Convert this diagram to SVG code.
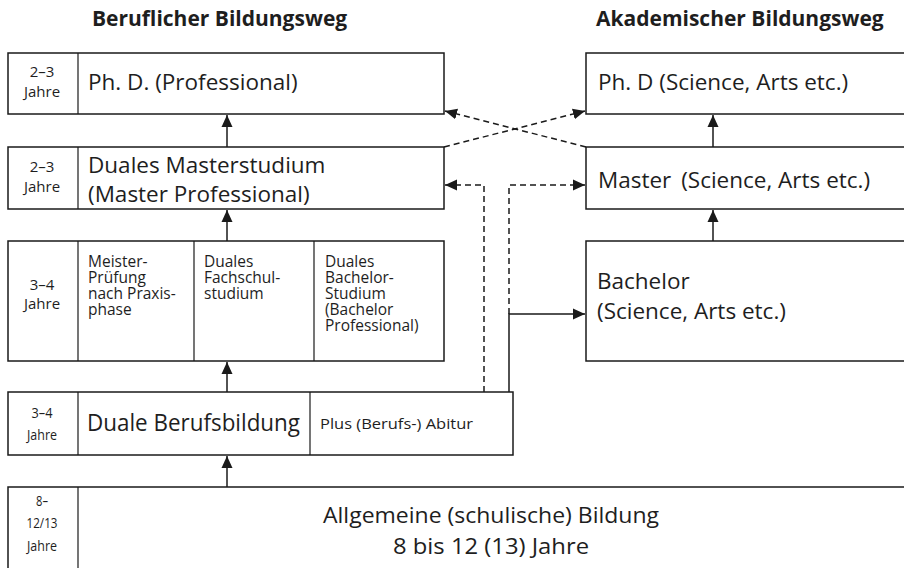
<svg xmlns="http://www.w3.org/2000/svg" width="904" height="568" viewBox="0 0 904 568">
<defs>
<marker id="ah" markerUnits="userSpaceOnUse" markerWidth="13" markerHeight="12" refX="12" refY="6" orient="auto">
<path d="M0,0.5 L12,6 L0,11.5 z" fill="#1a1a1a"/>
</marker>
<style>
.box{fill:#fff;stroke:#1a1a1a;stroke-width:1.5}
.div{stroke:#1a1a1a;stroke-width:1.2}
.t{font-family:"Open Sans","Noto Sans",sans-serif;fill:#1e1e1e}
.h{font-family:"Open Sans","Noto Sans",sans-serif;font-weight:bold;font-size:21px;fill:#1e1e1e}
.big{font-size:22.5px}
.mid{font-size:15.5px}
.yr{font-size:15px;text-anchor:middle}
.c{font-family:"Open Sans","Noto Sans",sans-serif;fill:#1e1e1e}
.s{fill:none;stroke:#1a1a1a;stroke-width:1.5}
.d{fill:none;stroke:#1a1a1a;stroke-width:1.5;stroke-dasharray:6,4}
</style>
</defs>
<rect width="904" height="568" fill="#fff"/>
<text class="h" x="92" y="26">Beruflicher Bildungsweg</text>
<text class="h" x="596" y="26">Akademischer Bildungsweg</text>

<g id="phd-prof">
<rect class="box" x="8" y="53" width="436" height="61"/>
<line class="div" x1="78" y1="53" x2="78" y2="114"/>
<text class="t yr" x="42" y="77">2–3</text>
<text class="t yr" x="42" y="97">Jahre</text>
<text class="t big" x="88" y="90">Ph. D. (Professional)</text>
</g>

<g id="master-prof">
<rect class="box" x="8" y="147" width="436" height="62"/>
<line class="div" x1="78" y1="147" x2="78" y2="209"/>
<text class="t yr" x="42" y="172">2–3</text>
<text class="t yr" x="42" y="192">Jahre</text>
<text class="t big" x="88" y="173">Duales Masterstudium</text>
<text class="t big" x="88" y="202">(Master Professional)</text>
</g>

<g id="bachelor-prof">
<rect class="box" x="8" y="241" width="436" height="120"/>
<line class="div" x1="78" y1="241" x2="78" y2="361"/>
<line class="div" x1="194" y1="241" x2="194" y2="361"/>
<line class="div" x1="314" y1="241" x2="314" y2="361"/>
<text class="t yr" x="42" y="290">3–4</text>
<text class="t yr" x="42" y="309">Jahre</text>
<text class="t mid" x="88" y="267">Meister-</text>
<text class="t mid" x="88" y="283">Prüfung</text>
<text class="t mid" x="88" y="299">nach Praxis-</text>
<text class="t mid" x="88" y="315">phase</text>
<text class="t mid" x="204" y="267">Duales</text>
<text class="t mid" x="204" y="283">Fachschul-</text>
<text class="t mid" x="204" y="299">studium</text>
<text class="t mid" x="325" y="267">Duales</text>
<text class="t mid" x="325" y="283">Bachelor-</text>
<text class="t mid" x="325" y="299">Studium</text>
<text class="t mid" x="325" y="315">(Bachelor</text>
<text class="t mid" x="325" y="331">Professional)</text>
</g>

<g id="berufsbildung">
<rect class="box" x="8" y="392" width="505" height="63"/>
<line class="div" x1="78" y1="392" x2="78" y2="455"/>
<line class="div" x1="310" y1="392" x2="310" y2="455"/>
<text class="c yr" x="42" y="418" textLength="21" lengthAdjust="spacingAndGlyphs">3–4</text>
<text class="c yr" x="42" y="440" textLength="30" lengthAdjust="spacingAndGlyphs">Jahre</text>
<text class="c" x="87" y="431" font-size="23" textLength="213" lengthAdjust="spacingAndGlyphs">Duale Berufsbildung</text>
<text class="c" x="320" y="429" font-size="15" textLength="153" lengthAdjust="spacingAndGlyphs">Plus (Berufs-) Abitur</text>
</g>

<g id="allgemein">
<rect class="box" x="8" y="487" width="910" height="100"/>
<line class="div" x1="78" y1="487" x2="78" y2="568"/>
<text class="c yr" x="42" y="506" textLength="12" lengthAdjust="spacingAndGlyphs">8–</text>
<text class="c yr" x="42" y="528" textLength="31" lengthAdjust="spacingAndGlyphs">12/13</text>
<text class="c yr" x="42" y="551" textLength="30" lengthAdjust="spacingAndGlyphs">Jahre</text>
<text class="c" x="491" y="523" font-size="22" text-anchor="middle" textLength="336" lengthAdjust="spacingAndGlyphs">Allgemeine (schulische) Bildung</text>
<text class="c" x="491" y="554" font-size="22" text-anchor="middle" textLength="196" lengthAdjust="spacingAndGlyphs">8 bis 12 (13) Jahre</text>
</g>

<g id="phd-acad">
<rect class="box" x="586" y="53" width="330" height="61"/>
<text class="t big" x="598" y="90">Ph. D (Science, Arts etc.)</text>
</g>

<g id="master-acad">
<rect class="box" x="586" y="147" width="330" height="62"/>
<text class="t big" x="598" y="188">Master <tspan dx="4">(Science, Arts etc.)</tspan></text>
</g>

<g id="bachelor-acad">
<rect class="box" x="586" y="241" width="330" height="120"/>
<text class="t big" x="597" y="289">Bachelor</text>
<text class="t big" x="597" y="319">(Science, Arts etc.)</text>
</g>

<g id="connectors">
<line class="s" x1="227" y1="147" x2="227" y2="115" marker-end="url(#ah)"/>
<line class="s" x1="227" y1="241" x2="227" y2="210" marker-end="url(#ah)"/>
<line class="s" x1="227" y1="392" x2="227" y2="362" marker-end="url(#ah)"/>
<line class="s" x1="227" y1="487" x2="227" y2="456" marker-end="url(#ah)"/>
<line class="s" x1="713" y1="147" x2="713" y2="115" marker-end="url(#ah)"/>
<line class="s" x1="713" y1="241" x2="713" y2="210" marker-end="url(#ah)"/>
<line class="d" x1="444" y1="147" x2="585" y2="111" marker-end="url(#ah)"/>
<line class="d" x1="586" y1="147" x2="445" y2="111" marker-end="url(#ah)"/>
<polyline class="d" points="484,392 484,185 445,185" marker-end="url(#ah)"/>
<polyline class="d" points="509,314 509,185 585,185" marker-end="url(#ah)"/>
<polyline class="s" points="509,392 509,314 585,314" marker-end="url(#ah)"/>
</g>
</svg>
